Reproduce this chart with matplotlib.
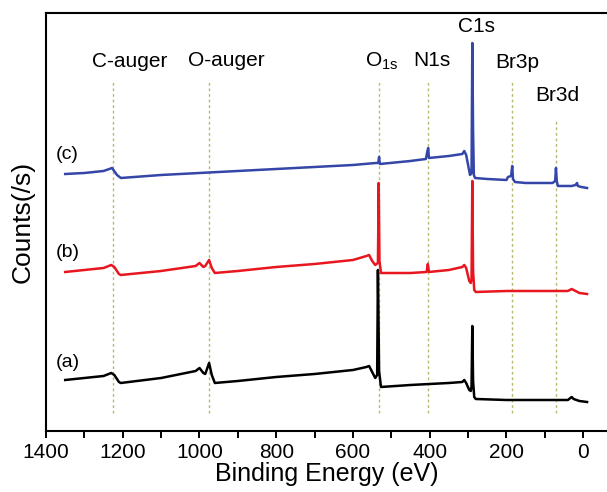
import matplotlib
matplotlib.use("Agg")
import matplotlib.pyplot as plt
from matplotlib.ticker import MultipleLocator

plt.rcParams['font.family'] = ['Liberation Sans', 'DejaVu Sans']
plt.rcParams['mathtext.fontset'] = 'custom'
plt.rcParams['mathtext.rm'] = 'Liberation Sans'

# XPS survey spectra (binding energy in eV, counts in arbitrary units)
energy_c = [1350, 1300, 1250, 1235, 1228, 1215, 1205, 1100, 1000, 900, 800, 700, 600, 540,
            534, 532, 530, 450, 410, 406, 404, 402, 350, 315, 310, 305, 298, 295, 291, 289,
            287, 285, 282, 250, 200, 196, 188, 185, 183, 178, 150, 80, 73, 71, 69, 66, 30,
            20, 16, 14, 5, -10]
counts_c = [257, 258, 260, 262, 263, 256, 253, 256, 258, 260, 262, 264, 266, 268,
            268, 274, 267, 270, 272, 280, 283, 273, 275, 277, 280, 276, 262, 256, 258, 388,
            300, 256, 253, 252, 251, 254, 255, 265, 252, 249, 248, 248, 250, 263, 250, 245, 245,
            246, 248, 245, 244, 243]

energy_b = [1350, 1300, 1250, 1230, 1222, 1210, 1205, 1100, 1010, 1000, 990, 985, 975, 968,
            960, 900, 800, 700, 600, 565, 558, 550, 542, 535, 533, 531, 527, 450, 408, 405,
            402, 350, 315, 310, 305, 297, 293, 291, 289, 287, 284, 280, 200, 100, 40, 30,
            25, 10, -10]
counts_b = [159, 161, 163, 166, 164, 157, 156, 160, 165, 168, 164, 165, 171, 163,
            158, 160, 164, 167, 171, 175, 176, 170, 166, 168, 248, 170, 158, 158, 159, 167,
            159, 161, 164, 166, 163, 150, 148, 152, 250, 160, 141, 139, 140, 140, 140, 142,
            141, 138, 137]

energy_a = [1350, 1300, 1250, 1230, 1222, 1210, 1205, 1100, 1010, 1000, 990, 985, 975, 968,
            960, 900, 800, 700, 600, 565, 558, 550, 542, 537, 535, 532, 527, 450, 400, 350,
            315, 310, 305, 297, 293, 291, 289, 287, 284, 280, 200, 100, 40, 30, 25, 10, -10]
counts_a = [51, 53, 55, 58, 56, 49, 48, 53, 60, 63, 58, 57, 68, 56,
            48, 50, 54, 57, 61, 64, 65, 59, 53, 56, 161, 60, 44, 46, 47, 48,
            49, 51, 48, 41, 40, 45, 105, 50, 34, 32, 31, 31, 31, 34, 32, 30, 29]

# peak assignments: label, position (eV), top of guide line
peak_names = ['C-auger', 'O-auger', 'O$_\\mathregular{1s}$', 'N1s', 'Br3p', 'Br3d']
peak_pos = [1226, 975, 532, 405, 185, 71]
guide_top = [351, 351, 351, 351, 351, 311]
label_xy = [(1183, 369), (930, 370), (525, 370), (395, 370), (172, 368), (67, 335)]

fig = plt.figure(figsize=(6.07, 4.92), dpi=100)
ax = fig.add_axes([0.0758, 0.124, 0.9242, 0.8496])

# dotted guide lines under each labelled peak
for pos, top in zip(peak_pos, guide_top):
    ax.plot([pos, pos], [18, top], ls=(0, (2, 2)), c='#b8b870', lw=1.0, zorder=1)

ax.plot(energy_a, counts_a, c='black', lw=1.8, zorder=3)
ax.plot(energy_b, counts_b, c='#e8161e', lw=1.8, zorder=3)
ax.plot(energy_c, counts_c, c='#3446a8', lw=1.8, zorder=4)

for name, (x, y) in zip(peak_names, label_xy):
    ax.text(x, y, name, fontsize=15, ha='center', va='center')
ax.text(279, 404, 'C1s', fontsize=15, ha='center', va='center')

ax.text(1344, 276, '(c)', fontsize=14, ha='center', va='center')
ax.text(1344, 178, '(b)', fontsize=14, ha='center', va='center')
ax.text(1343, 68, '(a)', fontsize=14, ha='center', va='center')

ax.set_xlim(1400, -62)
ax.set_ylim(0, 418)
ax.xaxis.set_major_locator(MultipleLocator(200))
ax.xaxis.set_minor_locator(MultipleLocator(100))
ax.tick_params(axis='x', which='both', direction='out', length=5, width=1.4,
               labelsize=15, pad=4)
ax.set_yticks([])
ax.spines['right'].set_visible(False)
for s in ['left', 'top', 'bottom']:
    ax.spines[s].set_linewidth(1.5)

ax.set_xlabel('Binding Energy (eV)', fontsize=18, labelpad=0)
ax.set_ylabel('Counts(/s)', fontsize=19, labelpad=8)

fig.savefig('out.png', dpi=100)
